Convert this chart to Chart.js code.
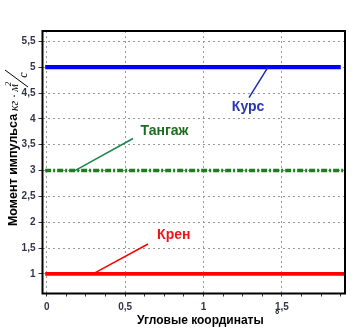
<!DOCTYPE html>
<html><head><meta charset="utf-8">
<script src="https://cdn.jsdelivr.net/npm/chart.js@4/dist/chart.umd.min.js"></script>
<style>html,body{margin:0;padding:0;background:#fff}</style>
</head><body>
<canvas id="c" width="358" height="331"></canvas>
<script>
// ---- data ----
const seriesNames = ['Курс', 'Тангаж', 'Крен'];
const seriesValues = [5, 3, 1];
const seriesStartX = [-0.01, -0.01, -0.01];
const seriesEndX = [1.875, 1.9, 1.9];
const labelX = [1.284, 0.751, 0.81];
const labelY = [4.22, 3.77, 1.76];
const leaderFromX = [1.29, 0.55, 0.646];
const leaderFromY = [4.41, 3.62, 1.58];
const leaderToX = [1.411, 0.18, 0.295];
const xMajorTicks = [0, 0.5, 1, 1.5];
const yTicks = [1, 1.5, 2, 2.5, 3, 3.5, 4, 4.5, 5, 5.5];
const xRange = [-0.027, 1.902];
const yRange = [0.622, 5.70];
const xTitle = 'Угловые координаты';
const xTitleUnit = '°';
const yTitle = 'Момент импульса';
const yUnitNum = 'кг · м';
const yUnitPow = '2';
const yUnitDen = 'с';

// ---- styles ----
const lineColors = ['#0000ff', '#1e7d1e', '#ff0000'];
const textColors = ['#2b35b0', '#1d6b1d', '#f01515'];
const leaderColors = ['#1c2cb0', '#16884a', '#ff0000'];
const lineWidths = [4.2, 3.6, 3.8];
const lineDashes = [[], [6, 2, 2, 2], []];

const isMajor = v => xMajorTicks.some(t => Math.abs(t - v) < 1e-6);
const fmt = v => String(v).replace('.', ',');

const datasets = seriesNames.map((n, i) => ({
  label: n,
  data: [{x: seriesStartX[i], y: seriesValues[i]}, {x: seriesEndX[i], y: seriesValues[i]}],
  showLine: true,
  borderColor: lineColors[i],
  borderWidth: lineWidths[i],
  borderDash: lineDashes[i],
  pointRadius: 0,
  fill: false
}));

function rotText(ctx, txt, x, y, font, color, align) {
  ctx.save();
  ctx.translate(x, y);
  ctx.rotate(-Math.PI / 2);
  ctx.font = font;
  ctx.fillStyle = color;
  ctx.textAlign = align;
  ctx.textBaseline = 'middle';
  ctx.fillText(txt, 0, 0);
  ctx.restore();
}

const decor = {
  id: 'decor',
  afterDraw(chart) {
    const ctx = chart.ctx;
    const a = chart.chartArea;
    const xs = chart.scales.x, ys = chart.scales.y;
    // frame
    ctx.save();
    ctx.strokeStyle = '#000';
    ctx.lineWidth = 2;
    ctx.strokeRect(a.left, a.top, a.right - a.left, a.bottom - a.top);
    ctx.restore();
    // annotations
    for (let i = 0; i < seriesNames.length; i++) {
      ctx.save();
      ctx.strokeStyle = leaderColors[i];
      ctx.lineWidth = 1.5;
      ctx.beginPath();
      ctx.moveTo(xs.getPixelForValue(leaderFromX[i]), ys.getPixelForValue(leaderFromY[i]));
      ctx.lineTo(xs.getPixelForValue(leaderToX[i]), ys.getPixelForValue(seriesValues[i]));
      ctx.stroke();
      ctx.font = 'bold 14px Arial, "Liberation Sans"';
      ctx.fillStyle = textColors[i];
      ctx.textAlign = 'center';
      ctx.textBaseline = 'middle';
      ctx.fillText(seriesNames[i], xs.getPixelForValue(labelX[i]), ys.getPixelForValue(labelY[i]));
      ctx.restore();
    }
    // x title
    ctx.save();
    ctx.font = 'bold 12px Arial, "Liberation Sans"';
    ctx.fillStyle = '#000';
    ctx.textAlign = 'left';
    ctx.textBaseline = 'middle';
    ctx.fillText(xTitle, 137, 321);
    ctx.font = 'bold 11px Arial, "Liberation Sans"';
    ctx.fillText(xTitleUnit, 275, 315);
    ctx.restore();
    // y title
    rotText(ctx, yTitle, 14, 170, 'bold 12.5px Arial, "Liberation Sans"', '#000', 'center');
    rotText(ctx, yUnitNum, 15, 111, 'italic 12px "Liberation Serif", "Times New Roman", serif', '#000', 'left');
    rotText(ctx, yUnitPow, 9, 84, 'italic 9px "Liberation Serif", "Times New Roman", serif', '#000', 'center');
    rotText(ctx, yUnitDen, 24, 75, 'italic 12px "Liberation Serif", "Times New Roman", serif', '#000', 'center');
    ctx.save();
    ctx.strokeStyle = '#000';
    ctx.lineWidth = 1;
    ctx.beginPath();
    ctx.moveTo(5, 70);
    ctx.lineTo(28, 87);
    ctx.stroke();
    ctx.restore();
  }
};

new Chart(document.getElementById('c'), {
  type: 'scatter',
  data: {datasets},
  options: {
    responsive: false,
    animation: false,
    devicePixelRatio: 1,
    layout: {padding: {top: 31, right: 13, left: 0, bottom: 0}},
    plugins: {legend: {display: false}, tooltip: {enabled: false}},
    scales: {
      x: {
        type: 'linear',
        min: xRange[0], max: xRange[1],
        afterFit: s => { s.height = 37.5; },
        ticks: {
          stepSize: 0.125,
          includeBounds: false,
          autoSkip: false,
          maxRotation: 0,
          padding: 5,
          color: '#33334a',
          font: {family: 'Arial, "Liberation Sans"', size: 10, weight: 'bold'},
          callback: v => isMajor(v) ? fmt(v) : ''
        },
        grid: {
          color: c => (c.tick && isMajor(c.tick.value)) ? '#999999' : 'rgba(0,0,0,0)',
          tickColor: '#333',
          tickLength: 3,
          lineWidth: 1
        },
        border: {display: false, dash: [2, 3]}
      },
      y: {
        type: 'linear',
        min: yRange[0], max: yRange[1],
        afterFit: s => { s.width = 42.5; },
        afterBuildTicks: s => { s.ticks = yTicks.map(v => ({value: v})); },
        ticks: {
          stepSize: 0.5,
          includeBounds: false,
          padding: 3,
          color: '#33334a',
          font: {family: 'Arial, "Liberation Sans"', size: 10, weight: 'bold'},
          callback: v => fmt(v)
        },
        grid: {
          color: '#999999',
          tickColor: '#333',
          tickLength: 4,
          lineWidth: 1
        },
        border: {display: false, dash: [2, 3]}
      }
    }
  },
  plugins: [decor]
});
</script>
</body></html>
